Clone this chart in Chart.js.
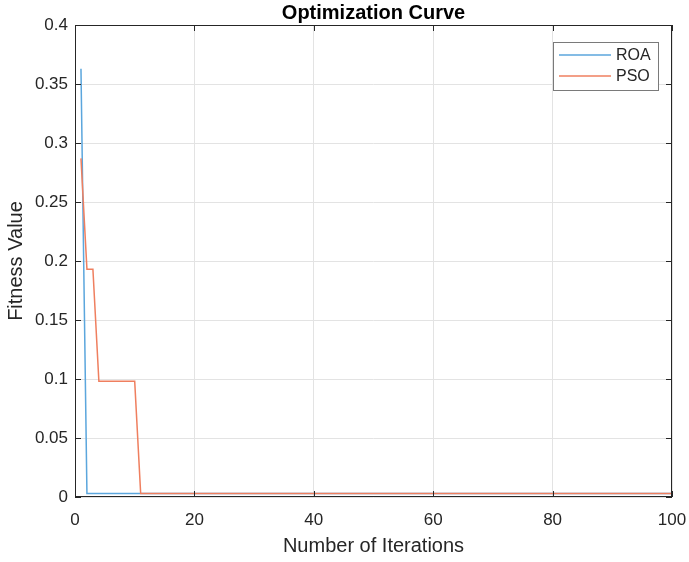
<!DOCTYPE html>
<html>
<head>
<meta charset="utf-8">
<script src="https://cdn.jsdelivr.net/npm/chart.js@4.4.1/dist/chart.umd.min.js"></script>
<style>
  html, body { margin: 0; padding: 0; background: #fff; }
  #wrap { width: 689px; height: 562px; }
</style>
</head>
<body>
<div id="wrap"><canvas id="chart"></canvas></div>
<script>
// iterations where the best fitness changes (lines are flat between them)
const roaIters = [1, 2, 100];
const roaValues = [0.363, 0.003, 0.003];
const psoIters = [1, 2, 3, 4, 10, 11, 100];
const psoValues = [0.287, 0.193, 0.193, 0.098, 0.098, 0.003, 0.003];
const seriesNames = ['ROA', 'PSO'];
const yTicks = [0, 0.05, 0.1, 0.15, 0.2, 0.25, 0.3, 0.35, 0.4];
const xTicks = [0, 20, 40, 60, 80, 100];

const axisColor = '#262626';
const fontFam = '"Liberation Sans", Arial, sans-serif';

function toPoints(xs, ys) {
    return xs.map((x, i) => ({ x: x, y: ys[i] }));
}

// box around plot, inner tick marks and the legend box (matlab style)
const boxPlugin = {
    id: 'box',
    afterDraw(chart) {
        const ctx = chart.ctx;
        const a = chart.chartArea;
        const xs = chart.scales.x, ys = chart.scales.y;
        ctx.save();
        ctx.strokeStyle = axisColor;
        ctx.lineWidth = 1;
        ctx.strokeRect(a.left + 0.5, a.top + 0.5, a.right - a.left - 1, a.bottom - a.top - 1);
        ctx.beginPath();
        xTicks.forEach(v => {
            const px = Math.round(xs.getPixelForValue(v)) + 0.5;
            ctx.moveTo(px, a.bottom); ctx.lineTo(px, a.bottom - 6);
            ctx.moveTo(px, a.top); ctx.lineTo(px, a.top + 6);
        });
        yTicks.forEach(v => {
            const py = Math.round(ys.getPixelForValue(v)) + 0.5;
            ctx.moveTo(a.left, py); ctx.lineTo(a.left + 6, py);
            ctx.moveTo(a.right, py); ctx.lineTo(a.right - 6, py);
        });
        ctx.stroke();

        // legend
        const lx = 553, ly = 42, lw = 105, lh = 48;
        ctx.fillStyle = '#fff';
        ctx.fillRect(lx, ly, lw, lh);
        ctx.strokeStyle = '#7a7a7a';
        ctx.strokeRect(lx + 0.5, ly + 0.5, lw, lh);
        ctx.font = '16px ' + fontFam;
        ctx.textBaseline = 'middle';
        chart.data.datasets.forEach((ds, i) => {
            const yy = ly + 13 + i * 21;
            ctx.strokeStyle = ds.borderColor;
            ctx.lineWidth = 1.5;
            ctx.beginPath();
            ctx.moveTo(lx + 6, yy); ctx.lineTo(lx + 58, yy);
            ctx.stroke();
            ctx.fillStyle = axisColor;
            ctx.fillText(ds.label, lx + 63, yy + 1);
        });
        ctx.restore();
    }
};

const ctx = document.getElementById('chart').getContext('2d');
const myChart = new Chart(ctx, {
    type: 'line',
    data: {
        datasets: [
            {
                label: seriesNames[0],
                data: toPoints(roaIters, roaValues),
                borderColor: '#5ba6dd',
                borderWidth: 1.5,
                pointRadius: 0,
                tension: 0,
                order: 2
            },
            {
                label: seriesNames[1],
                data: toPoints(psoIters, psoValues),
                borderColor: '#ef7f5f',
                borderWidth: 1.5,
                pointRadius: 0,
                tension: 0,
                order: 1
            }
        ]
    },
    options: {
        responsive: true,
        maintainAspectRatio: false,
        animation: false,
        layout: { padding: { left: 0, right: 17, top: 0, bottom: 0 } },
        plugins: {
            legend: { display: false },
            tooltip: { enabled: false },
            title: {
                display: true,
                fullSize: false,
                text: 'Optimization Curve',
                color: '#000',
                font: { family: fontFam, size: 20, weight: 'bold' },
                padding: { top: 1, bottom: 0 }
            }
        },
        scales: {
            x: {
                type: 'linear',
                min: 0,
                max: 100,
                afterBuildTicks: s => { s.ticks = xTicks.map(v => ({ value: v })); },
                ticks: { color: axisColor, font: { family: fontFam, size: 17 }, maxRotation: 0, padding: 13 },
                grid: { color: '#e3e3e3', drawTicks: false },
                border: { display: false },
                title: {
                    display: true,
                    text: 'Number of Iterations',
                    color: axisColor,
                    font: { family: fontFam, size: 20 },
                    padding: { top: 2 }
                },
                afterFit: s => {
                    s.height = 65;
                    s.paddingLeft = 0;
                    s.paddingRight = 0;
                }
            },
            y: {
                min: 0,
                max: 0.4,
                afterBuildTicks: s => { s.ticks = yTicks.map(v => ({ value: v })); },
                ticks: {
                    color: axisColor,
                    font: { family: fontFam, size: 17 },
                    padding: 7,
                    callback: v => String(Math.round(v * 100) / 100)
                },
                grid: { color: '#e3e3e3', drawTicks: false },
                border: { display: false },
                title: {
                    display: true,
                    text: 'Fitness Value',
                    color: axisColor,
                    font: { family: fontFam, size: 20 },
                    padding: { bottom: 4 }
                },
                afterFit: s => { s.width = 75; }
            }
        }
    },
    plugins: [boxPlugin]
});
</script>
</body>
</html>
